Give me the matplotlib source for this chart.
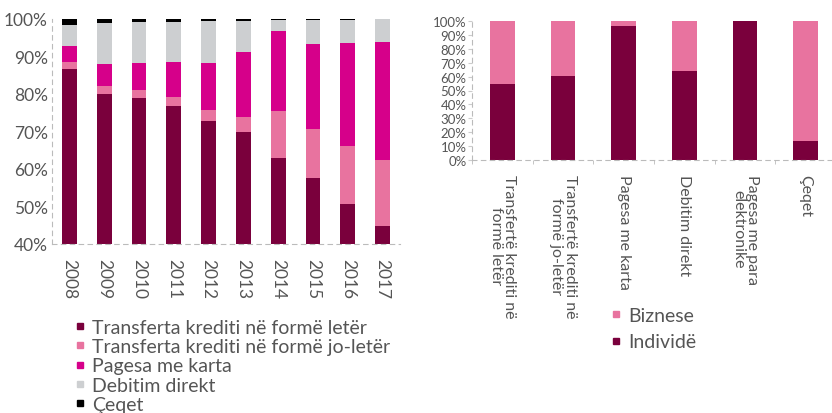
import matplotlib.pyplot as plt
from matplotlib.lines import Line2D
import numpy as np

plt.rcParams['font.family'] = ['Lato', 'DejaVu Sans']

# left chart: share of payment instruments by year (%)
years = ['2008', '2009', '2010', '2011', '2012', '2013', '2014', '2015', '2016', '2017']
letere = [86.8, 80.1, 78.9, 76.8, 72.9, 70.0, 62.9, 57.6, 50.7, 44.9]
jo_letere = [1.8, 2.0, 2.3, 2.4, 2.8, 3.9, 12.5, 13.0, 15.4, 17.6]
karta = [4.3, 5.8, 7.1, 9.4, 12.5, 17.2, 21.4, 22.7, 27.4, 31.4]
debitim = [5.5, 11.1, 10.8, 10.7, 11.2, 8.5, 2.9, 6.4, 6.3, 6.0]
ceqe = [1.6, 1.0, 0.9, 0.7, 0.6, 0.4, 0.3, 0.3, 0.2, 0.1]

# right chart: individuals vs businesses (%)
instrumente = ['Transfertë krediti në\nformë letër', 'Transfertë krediti në\nformë jo-letër',
               'Pagesa me karta', 'Debitim direkt', 'Pagesa me para\nelektronike', 'Çeqet']
individe = [54.7, 60.7, 96.4, 64.1, 100.0, 13.7]
biznese = [100 - v for v in individe]

c_dark = '#7a003c'
c_pink = '#e8739f'
c_mag = '#d6008a'
c_gray = '#cdcfd1'
c_black = '#000000'
txt = '#555555'

fig = plt.figure(figsize=(8.32, 4.14), dpi=100)

# ---- left chart
ax1 = fig.add_axes([52/832, 1-245/414, 348/832, 225/414])
x = np.arange(len(years))
series = [letere, jo_letere, karta, debitim, ceqe]
colors = [c_dark, c_pink, c_mag, c_gray, c_black]
bottom = np.zeros(len(years))
for vals, col in zip(series, colors):
    ax1.bar(x, vals, 0.42, bottom=bottom, color=col)
    bottom += np.array(vals)
ax1.set_ylim(40, 100)
ax1.set_xlim(-0.5, 9.5)
ax1.set_yticks(range(40, 101, 10))
ax1.set_yticklabels([f'{v}%' for v in range(40, 101, 10)], fontsize=12.5, color=txt)
ax1.set_xticks(x)
ax1.set_xticklabels(years, rotation=-90, fontsize=12.5, color=txt)
ax1.tick_params(axis='y', length=0, pad=3)
ax1.tick_params(axis='x', length=0, pad=10)
for s in ['top', 'right']:
    ax1.spines[s].set_visible(False)
for s in ['left', 'bottom']:
    ax1.spines[s].set_color('#bbbbbb')
    ax1.spines[s].set_linestyle((0, (4, 4)))
    ax1.spines[s].set_linewidth(0.8)

labels1 = ['Transferta krediti në formë letër', 'Transferta krediti në formë jo-letër',
           'Pagesa me karta', 'Debitim direkt', 'Çeqet']
h1 = [Line2D([], [], marker='s', ls='', color=c, markersize=5) for c in colors]
fig.legend(h1, labels1, loc='upper left', bbox_to_anchor=(64/832, 1-310/414),
           frameon=False, fontsize=14, labelcolor=txt, handlelength=0.6,
           handletextpad=0.35, labelspacing=0.12, borderpad=0)

# ---- right chart
ax2 = fig.add_axes([472/832, 1-160.7/414, 364/832, 138.4/414])
x2 = np.arange(len(instrumente))
ax2.bar(x2, individe, 0.41, color=c_dark)
ax2.bar(x2, biznese, 0.41, bottom=individe, color=c_pink)
ax2.set_ylim(0, 100)
ax2.set_xlim(-0.5, 5.5)
ax2.set_yticks(range(0, 101, 10))
ax2.set_yticklabels([f'{v}%' for v in range(0, 101, 10)], fontsize=9.5, color=txt)
ax2.set_xticks(x2)
ax2.set_xticklabels(instrumente, rotation=-90, fontsize=11.5, color=txt,
                    va='top', ha='center', linespacing=0.95)
ax2.set_xticks(np.arange(-0.5, 6, 1), minor=True)
ax2.tick_params(axis='x', which='major', length=0, pad=10)
ax2.tick_params(axis='x', which='minor', length=3, color='#bbbbbb')
ax2.tick_params(axis='y', length=3, color='#cccccc', pad=1)
for s in ['top', 'right']:
    ax2.spines[s].set_visible(False)
for s in ['left', 'bottom']:
    ax2.spines[s].set_color('#bbbbbb')
    ax2.spines[s].set_linestyle((0, (4, 4)))
    ax2.spines[s].set_linewidth(0.8)

h2 = [Line2D([], [], marker='s', ls='', color=c, markersize=5) for c in [c_pink, c_dark]]
fig.legend(h2, ['Biznese', 'Individë'], loc='upper left', bbox_to_anchor=(600/832, 1-298/414),
           frameon=False, fontsize=14, labelcolor=txt, handlelength=0.6,
           handletextpad=0.35, labelspacing=0.5, borderpad=0)

fig.savefig('out.png', dpi=100)
